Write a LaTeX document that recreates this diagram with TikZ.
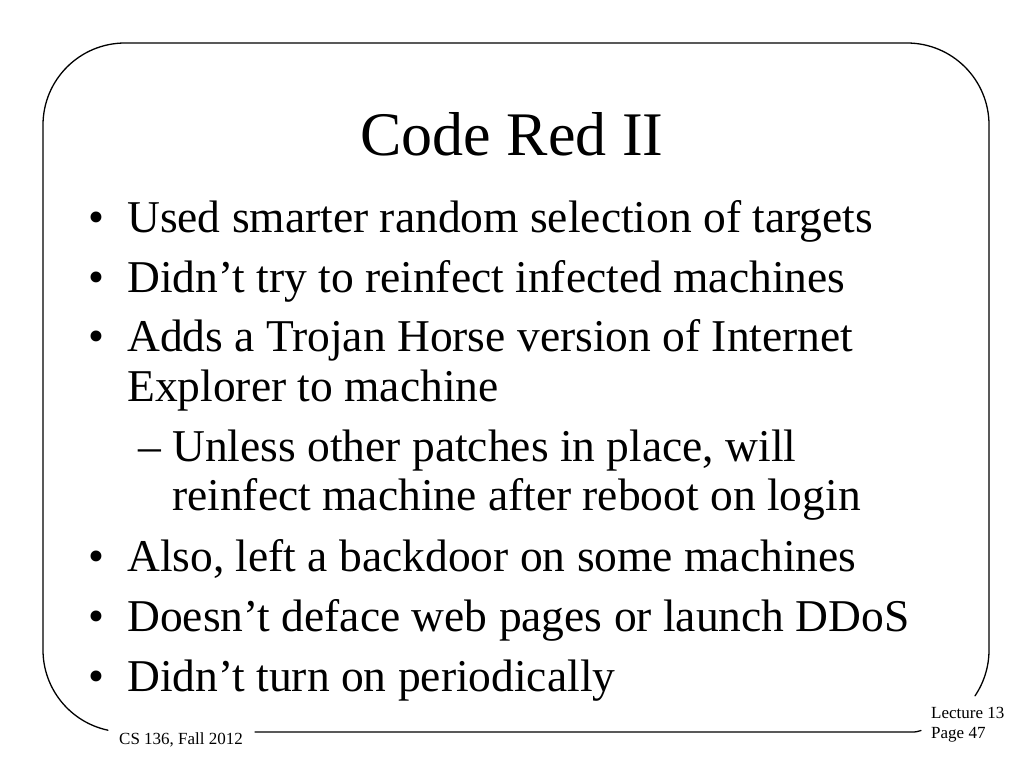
\documentclass[tikz,border=0pt]{standalone}
\usepackage{fontspec}
\setmainfont{Liberation Serif}
\begin{document}
\begin{tikzpicture}[x=1pt,y=1pt,
  frame/.style={line width=1.3pt, line cap=round},
  body/.style={anchor=base west, inner sep=0pt, font=\fontsize{45.5}{50}\selectfont},
  bul/.style={anchor=base west, inner sep=0pt, font=\fontsize{45.5}{50}\selectfont},
  ttl/.style={anchor=base, inner sep=0pt, font=\fontsize{62}{70}\selectfont},
  foot/.style={anchor=base west, inner sep=0pt, font=\fontsize{17}{20}\selectfont}]
\useasboundingbox[fill=white] (0,0) rectangle (1024,-768);
% frame
\draw[frame] (107.95,-730.2) arc[start angle=258,end angle=180,radius=82]
  -- (43,-125) arc[start angle=180,end angle=90,radius=82]
  -- (907,-43) arc[start angle=90,end angle=0,radius=82]
  -- (989,-650) arc[start angle=0,end angle=-34,radius=82];
\draw[frame] (255,-732) -- (912,-732) .. controls (916,-732) and (918,-731.5) .. (921,-730.5);
% title
\node[ttl] (title) at (512,-155) {Code Red II};
% bullets
\node[bul] (b1) at (88,-232) {•};
\node[body] (t1) at (127,-232) {Used smarter random selection of targets};
\node[bul] (b2) at (88,-292) {•};
\node[body] (t2) at (127,-292) {Didn’t try to reinfect infected machines};
\node[bul] (b3) at (88,-351) {•};
\node[body] (t3a) at (127,-351) {Adds a Trojan Horse version of Internet};
\node[body] (t3b) at (127,-401) {Explorer to machine};
\node[bul] (d4) at (138,-461) {–};
\node[body] (t4a) at (172,-461) {Unless other patches in place, will};
\node[body] (t4b) at (172,-510) {reinfect machine after reboot on login};
\node[bul] (b5) at (88,-571) {•};
\node[body] (t5) at (127,-571) {Also, left a backdoor on some machines};
\node[bul] (b6) at (88,-631) {•};
\node[body] (t6) at (127,-631) {Doesn’t deface web pages or launch DDoS};
\node[bul] (b7) at (88,-691) {•};
\node[body] (t7) at (127,-691) {Didn’t turn on periodically};
% footer
\node[foot] (course) at (119,-744) {CS 136, Fall 2012};
\node[foot] (lec) at (931,-718) {Lecture 13};
\node[foot] (page) at (931,-738) {Page 47};
\end{tikzpicture}
\end{document}
